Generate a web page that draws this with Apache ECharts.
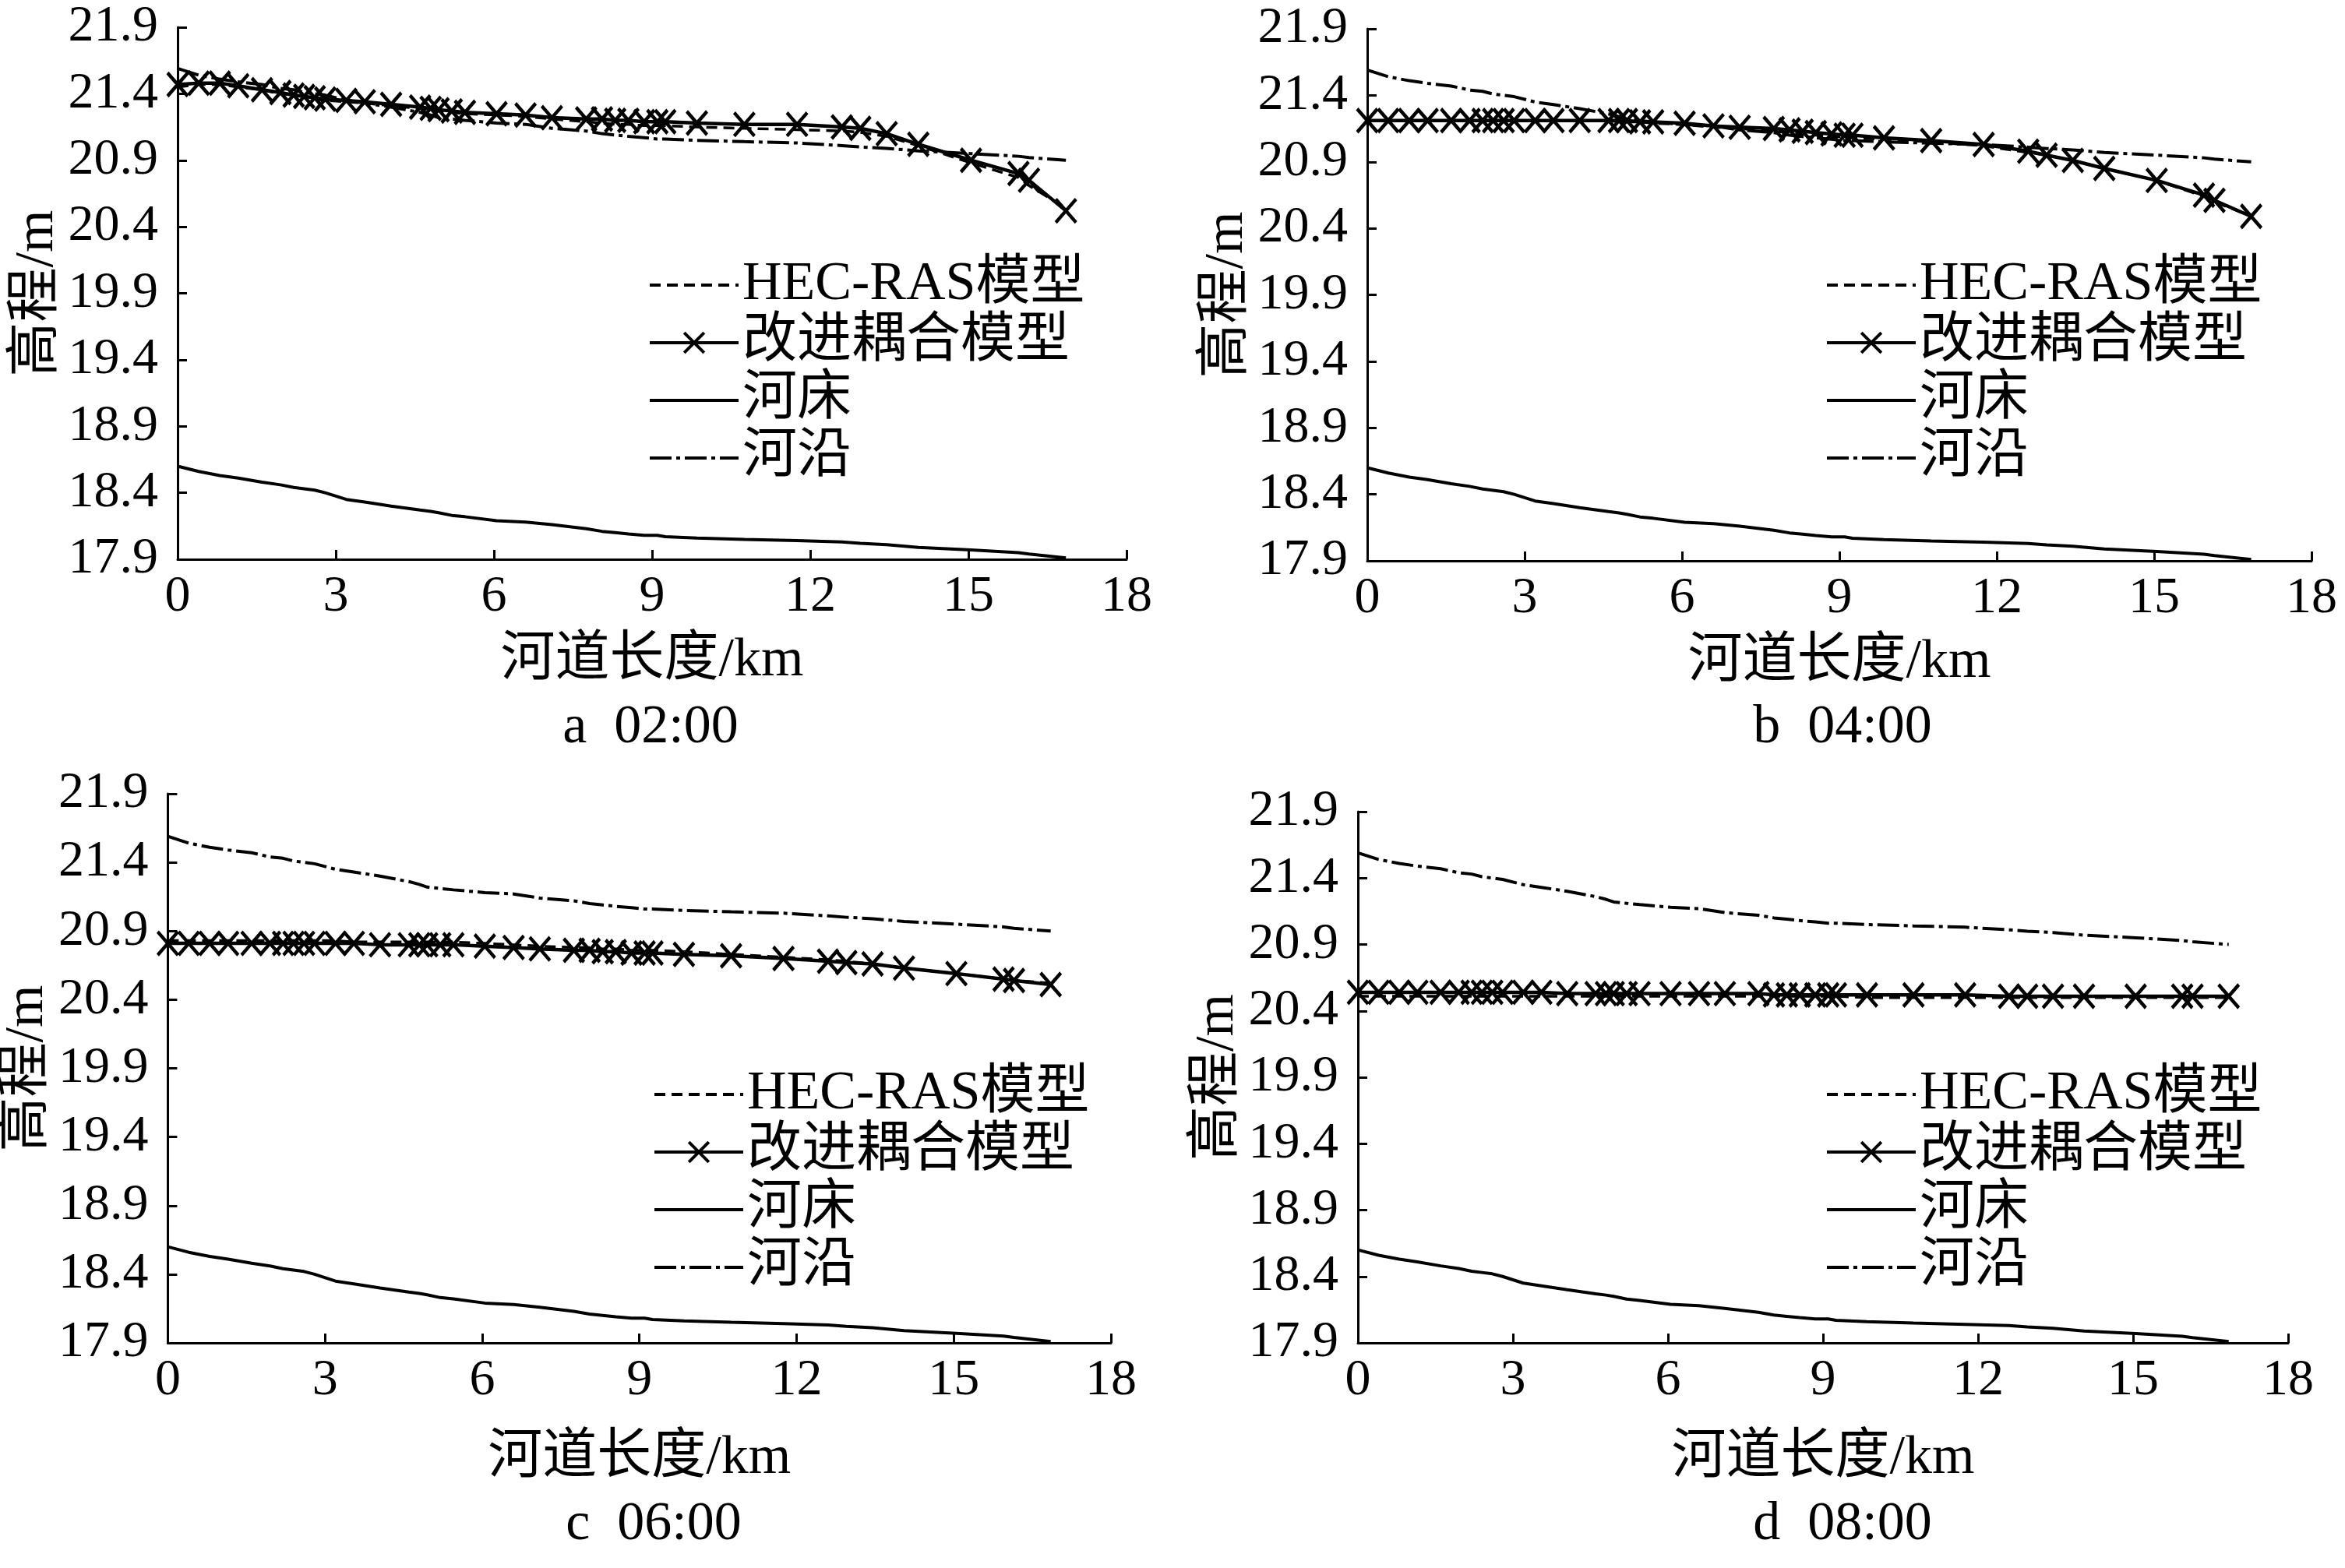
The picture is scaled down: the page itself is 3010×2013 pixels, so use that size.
<!DOCTYPE html>
<html>
<head>
<meta charset="utf-8">
<script src="https://cdn.jsdelivr.net/npm/echarts@6/dist/echarts.min.js"></script>
<style>
body { margin: 0; background: #fff; }
#main { width: 3010px; height: 2013px; }
</style>
</head>
<body>
<div id="main"></div>
<script>
// river stations (km) and levels (m)
var stations = [0, 0.4, 0.8, 1.15, 1.6, 1.95, 2.2, 2.4, 2.6, 2.8, 3.2, 3.55, 4.05, 4.6, 4.8, 4.95, 5.2, 5.45, 6.05, 6.6,
    7.1, 7.75, 8.05, 8.3, 8.55, 8.85, 9.1, 9.25, 9.85, 10.75, 11.75, 12.6, 12.95, 13.45, 14.05, 15.05, 15.95, 16.15, 16.85];

var bedLevel = [18.60, 18.56, 18.53, 18.51, 18.48, 18.46, 18.44, 18.43, 18.42, 18.40, 18.35, 18.33, 18.30, 18.27, 18.26, 18.25, 18.23, 18.22, 18.19, 18.18,
    18.16, 18.13, 18.11, 18.10, 18.09, 18.08, 18.08, 18.07, 18.06, 18.05, 18.04, 18.03, 18.02, 18.01, 17.99, 17.97, 17.95, 17.94, 17.91];

var bankLevel = [21.59, 21.54, 21.51, 21.49, 21.47, 21.44, 21.43, 21.41, 21.40, 21.39, 21.35, 21.33, 21.30, 21.26, 21.24, 21.22, 21.21, 21.20, 21.18, 21.17,
    21.14, 21.12, 21.10, 21.09, 21.08, 21.07, 21.06, 21.06, 21.05, 21.04, 21.03, 21.01, 21.00, 20.99, 20.97, 20.95, 20.93, 20.92, 20.90];

// 02:00
var hec0200 = [21.45, 21.47, 21.47, 21.45, 21.43, 21.40, 21.39, 21.38, 21.36, 21.35, 21.34, 21.33, 21.31, 21.29, 21.28, 21.27, 21.26, 21.25, 21.24, 21.23,
    21.21, 21.19, 21.18, 21.17, 21.17, 21.16, 21.16, 21.16, 21.15, 21.14, 21.13, 21.12, 21.11, 21.08, 21.01, 20.88, 20.77, 20.71, 20.54];
var cpl0200 = [21.47, 21.48, 21.48, 21.46, 21.43, 21.41, 21.39, 21.38, 21.37, 21.36, 21.35, 21.34, 21.32, 21.30, 21.29, 21.28, 21.27, 21.26, 21.25, 21.24,
    21.22, 21.21, 21.21, 21.20, 21.20, 21.19, 21.19, 21.19, 21.18, 21.17, 21.17, 21.15, 21.14, 21.10, 21.02, 20.90, 20.80, 20.75, 20.52];

// 04:00
var hec0400 = [21.21, 21.21, 21.21, 21.21, 21.21, 21.21, 21.21, 21.21, 21.21, 21.21, 21.21, 21.21, 21.21, 21.21, 21.20, 21.20, 21.20, 21.19, 21.18, 21.16,
    21.15, 21.13, 21.12, 21.11, 21.10, 21.09, 21.09, 21.08, 21.07, 21.05, 21.02, 20.97, 20.95, 20.91, 20.85, 20.76, 20.64, 20.60, 20.49];
var cpl0400 = [21.21, 21.21, 21.21, 21.21, 21.21, 21.21, 21.21, 21.21, 21.21, 21.21, 21.21, 21.21, 21.21, 21.21, 21.21, 21.21, 21.20, 21.20, 21.19, 21.17,
    21.16, 21.15, 21.14, 21.13, 21.12, 21.11, 21.10, 21.10, 21.08, 21.06, 21.03, 20.98, 20.95, 20.91, 20.85, 20.76, 20.65, 20.61, 20.49];

// 06:00
var hec0600 = [20.83, 20.83, 20.83, 20.83, 20.83, 20.83, 20.83, 20.83, 20.83, 20.83, 20.83, 20.82, 20.82, 20.82, 20.82, 20.82, 20.82, 20.82, 20.81, 20.80,
    20.79, 20.78, 20.78, 20.77, 20.77, 20.76, 20.76, 20.76, 20.75, 20.73, 20.71, 20.69, 20.68, 20.66, 20.63, 20.59, 20.55, 20.54, 20.52];
var cpl0600 = [20.81, 20.81, 20.81, 20.81, 20.81, 20.81, 20.81, 20.81, 20.81, 20.81, 20.81, 20.81, 20.80, 20.80, 20.80, 20.80, 20.80, 20.80, 20.79, 20.78,
    20.77, 20.76, 20.76, 20.75, 20.75, 20.74, 20.74, 20.74, 20.73, 20.72, 20.70, 20.68, 20.67, 20.66, 20.63, 20.59, 20.55, 20.54, 20.51];

// 08:00
var hec0800 = [20.51, 20.51, 20.51, 20.51, 20.51, 20.51, 20.51, 20.51, 20.51, 20.51, 20.51, 20.51, 20.51, 20.51, 20.51, 20.51, 20.51, 20.51, 20.51, 20.51,
    20.51, 20.51, 20.51, 20.51, 20.51, 20.51, 20.51, 20.51, 20.50, 20.50, 20.50, 20.50, 20.50, 20.50, 20.50, 20.50, 20.50, 20.50, 20.50];
var cpl0800 = [20.54, 20.54, 20.54, 20.54, 20.54, 20.54, 20.54, 20.54, 20.54, 20.54, 20.54, 20.54, 20.53, 20.53, 20.53, 20.53, 20.53, 20.53, 20.53, 20.53,
    20.53, 20.53, 20.52, 20.52, 20.52, 20.52, 20.52, 20.52, 20.52, 20.52, 20.52, 20.51, 20.51, 20.51, 20.51, 20.51, 20.51, 20.51, 20.51];

var xTicks = [0, 3, 6, 9, 12, 15, 18];
var yTicks = [17.9, 18.4, 18.9, 19.4, 19.9, 20.4, 20.9, 21.4, 21.9];
var legendNames = ['HEC-RAS模型', '改进耦合模型', '河床', '河沿'];
var captions = ['a  02:00', 'b  04:00', 'c  06:00', 'd  08:00'];
var hecRuns = [hec0200, hec0400, hec0600, hec0800];
var cplRuns = [cpl0200, cpl0400, cpl0600, cpl0800];

var FONT = "'Liberation Serif', 'Times New Roman', 'Noto Sans CJK SC', serif";
var FS = 66;
var FS_TXT = 70;
var crossMark = 'path://M0,0L20,22M20,0L0,22';
var hidden = {color: 'rgba(0,0,0,0)', borderColor: 'rgba(0,0,0,0)', borderWidth: 0};

var grids = [
    {left: 228, top: 35, width: 1218, height: 683},
    {left: 1755, top: 37, width: 1212, height: 683},
    {left: 213, top: 1019, width: 1213, height: 705},
    {left: 1743, top: 1042, width: 1194, height: 682}
];
var legendPos = [[827, 326], [2338, 326], [833, 1365], [2338, 1365]];
var captionPos = [[835, 935], [2365, 935], [839, 1958], [2365, 1958]];
var xNameGap = [96, 96, 114, 114];

function toPairs(vals) {
    return stations.map(function (x, i) { return [x, vals[i]]; });
}

var xAxes = [], yAxes = [], series = [], legends = [], texts = [];

for (var i = 0; i < 4; i++) {
    xAxes.push({
        gridIndex: i, type: 'value', min: 0, max: 18,
        name: '河道长度/km', nameLocation: 'middle', nameGap: xNameGap[i],
        nameTextStyle: {fontSize: FS_TXT, fontFamily: FONT, color: '#000'},
        axisLine: {show: true, onZero: false, lineStyle: {color: '#000', width: 3}},
        axisTick: {show: true, inside: true, length: 12, customValues: xTicks, lineStyle: {color: '#000', width: 3}},
        axisLabel: {margin: 16, fontSize: FS, fontFamily: FONT, color: '#000', customValues: xTicks},
        splitLine: {show: false}
    });
    yAxes.push({
        gridIndex: i, type: 'value', min: 17.9, max: 21.9,
        name: '高程/m', nameLocation: 'middle', nameGap: 140,
        nameTextStyle: {fontSize: FS_TXT, fontFamily: FONT, color: '#000'},
        axisLine: {show: true, onZero: false, lineStyle: {color: '#000', width: 3}},
        axisTick: {show: true, inside: true, length: 12, customValues: yTicks, lineStyle: {color: '#000', width: 3}},
        axisLabel: {
            margin: 25, fontSize: FS, fontFamily: FONT, color: '#000', customValues: yTicks,
            formatter: function (v) { return v.toFixed(1); }
        },
        splitLine: {show: false}
    });

    series.push({
        name: legendNames[0], type: 'line', xAxisIndex: i, yAxisIndex: i,
        data: toPairs(hecRuns[i]), symbol: 'circle', showSymbol: false, z: 3,
        itemStyle: hidden,
        lineStyle: {color: '#000', width: 3.5, type: [14, 8]}
    });
    series.push({
        name: legendNames[1], type: 'line', xAxisIndex: i, yAxisIndex: i,
        data: toPairs(cplRuns[i]), z: 4,
        symbol: crossMark, symbolSize: [26, 30],
        itemStyle: {color: 'rgba(0,0,0,0)', borderColor: '#000', borderWidth: 4.5},
        lineStyle: {color: '#000', width: 4.5}
    });
    series.push({
        name: legendNames[2], type: 'line', xAxisIndex: i, yAxisIndex: i,
        data: toPairs(bedLevel), symbol: 'circle', showSymbol: false, z: 2,
        itemStyle: hidden,
        lineStyle: {color: '#000', width: 4}
    });
    series.push({
        name: legendNames[3], type: 'line', xAxisIndex: i, yAxisIndex: i,
        data: toPairs(bankLevel), symbol: 'circle', showSymbol: false, z: 2,
        itemStyle: hidden,
        lineStyle: {color: '#000', width: 4, type: [28, 6, 5, 6]}
    });

    legends.push({
        orient: 'vertical', left: legendPos[i][0], top: legendPos[i][1],
        itemWidth: 114, itemHeight: 32, itemGap: 4, selectedMode: false,
        lineStyle: {width: 4},
        itemStyle: {borderWidth: 4},
        textStyle: {fontSize: FS_TXT, fontFamily: FONT, color: '#000', lineHeight: 68},
        data: legendNames
    });

    texts.push({
        type: 'text', x: captionPos[i][0], y: captionPos[i][1],
        style: {text: captions[i], fontSize: FS_TXT, fontFamily: FONT, fill: '#000', textAlign: 'center', textVerticalAlign: 'middle'}
    });
}

var myChart = echarts.init(document.getElementById('main'));
var option = {
    animation: false,
    backgroundColor: '#fff',
    color: ['#000'],
    grid: grids,
    xAxis: xAxes,
    yAxis: yAxes,
    legend: legends,
    series: series,
    graphic: texts
};
myChart.setOption(option);
</script>
</body>
</html>
